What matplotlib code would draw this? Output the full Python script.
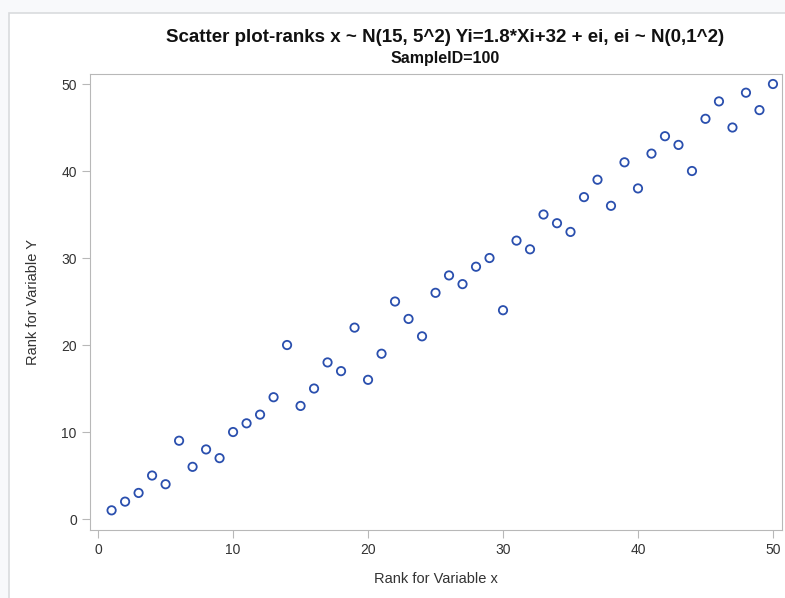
import matplotlib
matplotlib.use("Agg")
import matplotlib.pyplot as plt
from matplotlib.patches import Rectangle

plt.rcParams['font.family'] = ['Liberation Sans', 'DejaVu Sans']

# ranks of x and y
rank_x = list(range(1, 51))
rank_y = [1, 2, 3, 5, 4, 9, 6, 8, 7, 10,
          11, 12, 14, 20, 13, 15, 18, 17, 22, 16,
          19, 25, 23, 21, 26, 28, 27, 29, 30, 24,
          32, 31, 35, 34, 33, 37, 39, 36, 41, 38,
          42, 44, 43, 40, 46, 48, 45, 49, 47, 50]
ticks = [0, 10, 20, 30, 40, 50]

fig = plt.figure(figsize=(7.85, 5.98), dpi=100)
fig.patch.set_facecolor('#f8f9fb')
# inner white panel with light border
fig.add_artist(Rectangle((9 / 785, -0.01), 1.0, 1 - 13 / 598 + 0.01,
                         transform=fig.transFigure, facecolor='white',
                         edgecolor='#d9dbde', linewidth=1.2, zorder=-1))

ax = fig.add_axes([90 / 785, 1 - 530 / 598, 692 / 785, 456 / 598])
ax.set_zorder(2)
ax.scatter(rank_x, rank_y, s=36, facecolors='none', edgecolors='#2a4fae',
           linewidths=1.3, zorder=3)

ax.set_xlim(-0.6, 50.67)
ax.set_ylim(-1.26, 51.15)
ax.set_xticks(ticks)
ax.set_yticks(ticks)
for s in ax.spines.values():
    s.set_color('#b8b8b8')
ax.tick_params(colors='#b8b8b8', labelcolor='#333333', labelsize=10, length=6)

ax.set_xlabel("Rank for Variable x", fontsize=10.5, color='#333333', labelpad=11)
ax.set_ylabel("Rank for Variable Y", fontsize=10.5, color='#333333', labelpad=15)

fig.text(445 / 785, 1 - 38 / 598, "Scatter plot-ranks x ~ N(15, 5^2) Yi=1.8*Xi+32 + ei, ei ~ N(0,1^2)",
         ha='center', va='center', fontsize=13.5, fontweight='bold', color='#111111')
fig.text(445 / 785, 1 - 58 / 598, "SampleID=100",
         ha='center', va='center', fontsize=11.5, fontweight='bold', color='#111111')

fig.savefig("out.png", dpi=100, facecolor=fig.get_facecolor())
